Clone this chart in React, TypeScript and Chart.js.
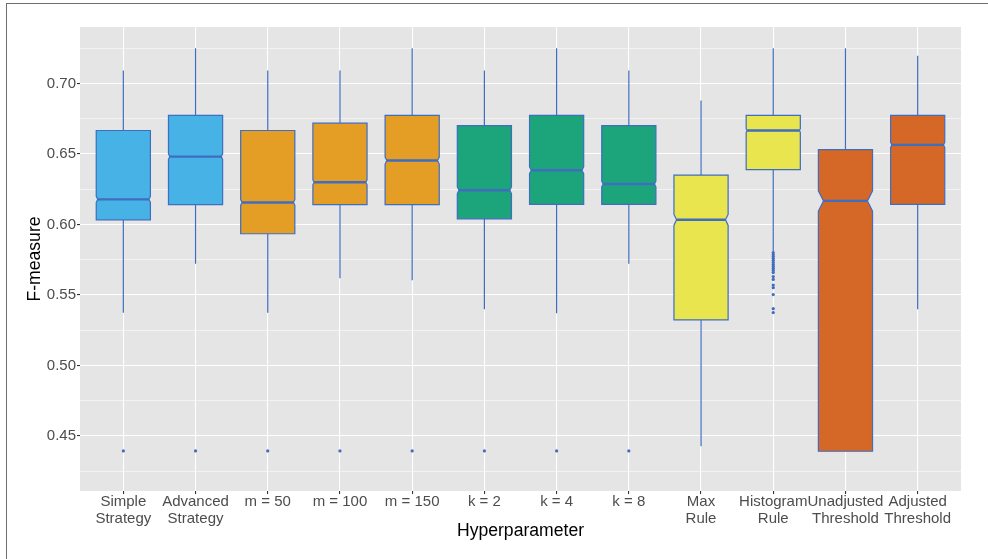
import React, { useEffect, useRef } from "react";
import { Chart, registerables } from "chart.js";

Chart.register(...registerables);

// ---------- data ----------
const CATEGORIES: (string | string[])[] = [
  ["Simple", "Strategy"],
  ["Advanced", "Strategy"],
  "m = 50",
  "m = 100",
  "m = 150",
  "k = 2",
  "k = 4",
  "k = 8",
  ["Max", "Rule"],
  ["Histogram", "Rule"],
  ["Unadjusted", "Threshold"],
  ["Adjusted", "Threshold"],
];

const WHISKER_LOW = [0.5373, 0.5721, 0.5373, 0.5618, 0.5604, 0.5398, 0.537, 0.5721, 0.4427, 0.5808, 0.4392, 0.5398];
const Q1 = [0.6033, 0.614, 0.5934, 0.614, 0.614, 0.604, 0.6142, 0.6142, 0.5323, 0.6389, 0.4392, 0.6142];
const MEDIAN = [0.6178, 0.6481, 0.6156, 0.6299, 0.6453, 0.6242, 0.6384, 0.6287, 0.6033, 0.6666, 0.6167, 0.6564];
const Q3 = [0.6666, 0.6773, 0.6666, 0.6718, 0.6773, 0.6701, 0.6773, 0.6701, 0.635, 0.6773, 0.6531, 0.6773];
const WHISKER_HIGH = [0.7092, 0.7249, 0.7092, 0.7092, 0.7249, 0.7092, 0.7249, 0.7092, 0.6879, 0.7249, 0.7249, 0.7196];
const NOTCH_HALF = [0.0021, 0.002, 0.002, 0.0018, 0.0025, 0.0024, 0.0024, 0.002, 0.0038, 0.0013, 0.0072, 0.0018];

const OUTLIERS: number[][] = [
  [0.4394],
  [0.4394],
  [0.4394],
  [0.4394],
  [0.4394],
  [0.4394],
  [0.4394],
  [0.4394],
  [],
  [0.5801, 0.5787, 0.5773, 0.5759, 0.5745, 0.573, 0.5716, 0.5702, 0.5688, 0.5674, 0.5659,
   0.5631, 0.561, 0.557, 0.5552, 0.5503, 0.5403, 0.5375],
  [],
  [],
];

const Y_MAJOR_TICKS = [0.45, 0.5, 0.55, 0.6, 0.65, 0.7];
const Y_MINOR_TICKS = [0.425, 0.475, 0.525, 0.575, 0.625, 0.675, 0.725];
const Y_MIN = 0.411;
const Y_MAX = 0.74;
const X_MIN = -0.6;
const X_MAX = 11.6;

// ---------- styles ----------
const FILL_COLORS = [
  "#47B2E6", "#47B2E6",
  "#E49E25", "#E49E25", "#E49E25",
  "#1CA47A", "#1CA47A", "#1CA47A",
  "#E8E54F", "#E8E54F",
  "#D56826", "#D56826",
];
const OUTLINE = "#3F6DC0";
const PANEL_BG = "#E5E5E5";
const FONT = "'Liberation Sans', Arial, sans-serif";
const BOX_WIDTH = 0.75;

const isMajor = (v: number) => Y_MAJOR_TICKS.some((m) => Math.abs(m - v) < 1e-6);

const panelPlugin = {
  id: "panelBg",
  beforeDraw(chart: any) {
    const { ctx, chartArea } = chart;
    ctx.save();
    ctx.fillStyle = PANEL_BG;
    ctx.fillRect(chartArea.left, chartArea.top, chartArea.right - chartArea.left, chartArea.bottom - chartArea.top);
    ctx.restore();
  },
};

const boxPlugin = {
  id: "notchedBoxes",
  beforeDatasetsDraw(chart: any) {
    const { ctx } = chart;
    const x = chart.scales.x;
    const y = chart.scales.y;
    ctx.save();
    for (let i = 0; i < CATEGORIES.length; i++) {
      const cx = x.getPixelForValue(i);
      const hw = x.getPixelForValue(i + BOX_WIDTH / 2) - cx;
      const yWL = y.getPixelForValue(WHISKER_LOW[i]);
      const yWH = y.getPixelForValue(WHISKER_HIGH[i]);
      const top = y.getPixelForValue(Q3[i]);
      const bot = y.getPixelForValue(Q1[i]);
      const yMed = y.getPixelForValue(MEDIAN[i]);
      const nu = Math.max(y.getPixelForValue(MEDIAN[i] + NOTCH_HALF[i]), top);
      const nl = Math.min(y.getPixelForValue(MEDIAN[i] - NOTCH_HALF[i]), bot);
      const indent = Math.min(((nl - nu) / 2) * 0.5, hw * 0.25);

      // whiskers
      ctx.strokeStyle = OUTLINE;
      ctx.lineWidth = 1.2;
      ctx.beginPath();
      ctx.moveTo(cx, top);
      ctx.lineTo(cx, yWH);
      ctx.moveTo(cx, bot);
      ctx.lineTo(cx, yWL);
      ctx.stroke();

      // notched box
      const l = cx - hw;
      const r = cx + hw;
      ctx.beginPath();
      ctx.moveTo(l, top);
      ctx.lineTo(r, top);
      ctx.lineTo(r, nu);
      ctx.lineTo(r - indent, yMed);
      ctx.lineTo(r, nl);
      ctx.lineTo(r, bot);
      ctx.lineTo(l, bot);
      ctx.lineTo(l, nl);
      ctx.lineTo(l + indent, yMed);
      ctx.lineTo(l, nu);
      ctx.closePath();
      ctx.fillStyle = FILL_COLORS[i];
      ctx.fill();
      ctx.lineWidth = 1.2;
      ctx.lineJoin = "miter";
      ctx.stroke();

      // median
      ctx.lineWidth = 2.4;
      ctx.beginPath();
      ctx.moveTo(l + indent, yMed);
      ctx.lineTo(r - indent, yMed);
      ctx.stroke();
    }
    ctx.restore();
  },
};

export default function App() {
  const ref = useRef<HTMLCanvasElement | null>(null);

  useEffect(() => {
    if (!ref.current) return;
    const points: { x: number; y: number }[] = [];
    OUTLIERS.forEach((vals, i) => vals.forEach((v) => points.push({ x: i, y: v })));

    const chart = new Chart(ref.current, {
      type: "scatter",
      data: {
        datasets: [
          {
            data: points,
            pointRadius: 1.6,
            pointHoverRadius: 1.6,
            backgroundColor: OUTLINE,
            borderWidth: 0,
          },
        ],
      },
      options: {
        animation: false,
        responsive: false,
        layout: { padding: { top: 27, right: 27, bottom: 0, left: 0 } },
        plugins: { legend: { display: false }, tooltip: { enabled: false } },
        scales: {
          x: {
            type: "linear",
            min: X_MIN,
            max: X_MAX,
            afterBuildTicks: (s: any) => {
              s.ticks = CATEGORIES.map((_, i) => ({ value: i }));
            },
            afterFit: (s: any) => {
              s.height = 68;
            },
            ticks: {
              autoSkip: false,
              maxRotation: 0,
              minRotation: 0,
              padding: 0,
              color: "#4D4D4D",
              font: { family: FONT, size: 15, lineHeight: 1.11 },
              callback: (v: any) => CATEGORIES[Math.round(Number(v))] as any,
            },
            grid: {
              color: "#FFFFFF",
              lineWidth: 1.1,
              tickColor: "#333333",
              tickLength: 3,
              drawTicks: true,
            },
            border: { display: false },
            title: {
              display: true,
              text: "Hyperparameter",
              color: "#000000",
              font: { family: FONT, size: 17.6, lineHeight: 1.2 },
              padding: { top: 0, bottom: 17 },
            },
          },
          y: {
            type: "linear",
            min: Y_MIN,
            max: Y_MAX,
            afterBuildTicks: (s: any) => {
              s.ticks = [...Y_MAJOR_TICKS, ...Y_MINOR_TICKS]
                .sort((a, b) => a - b)
                .map((v) => ({ value: v }));
            },
            afterFit: (s: any) => {
              s.width = 80;
            },
            ticks: {
              autoSkip: false,
              padding: 1,
              color: "#4D4D4D",
              font: { family: FONT, size: 15 },
              callback: (v: any) => (isMajor(Number(v)) ? Number(v).toFixed(2) : ""),
            },
            grid: {
              color: "#FFFFFF",
              lineWidth: (c: any) => (c.tick && isMajor(c.tick.value) ? 1.1 : 0.55),
              tickColor: (c: any) => (c.tick && isMajor(c.tick.value) ? "#333333" : "rgba(0,0,0,0)"),
              tickLength: 3,
              drawTicks: true,
            },
            border: { display: false },
            title: {
              display: true,
              text: "F-measure",
              color: "#000000",
              font: { family: FONT, size: 17.6, lineHeight: 1.2 },
              padding: { top: 24.2, bottom: 0 },
            },
          },
        },
      },
      plugins: [panelPlugin, boxPlugin],
    } as any);
    return () => chart.destroy();
  }, []);

  return (
    <div style={{ position: "fixed", left: 0, top: 0, width: 988, height: 559, background: "#FFFFFF" }}>
      <canvas ref={ref} width={988} height={559} style={{ display: "block" }} />
      <div
        style={{
          position: "absolute",
          left: 6,
          top: 3,
          width: 982,
          height: 556,
          borderLeft: "1px solid #6E6E6E",
          borderTop: "1px solid #6E6E6E",
          boxSizing: "border-box",
          pointerEvents: "none",
        }}
      />
    </div>
  );
}
